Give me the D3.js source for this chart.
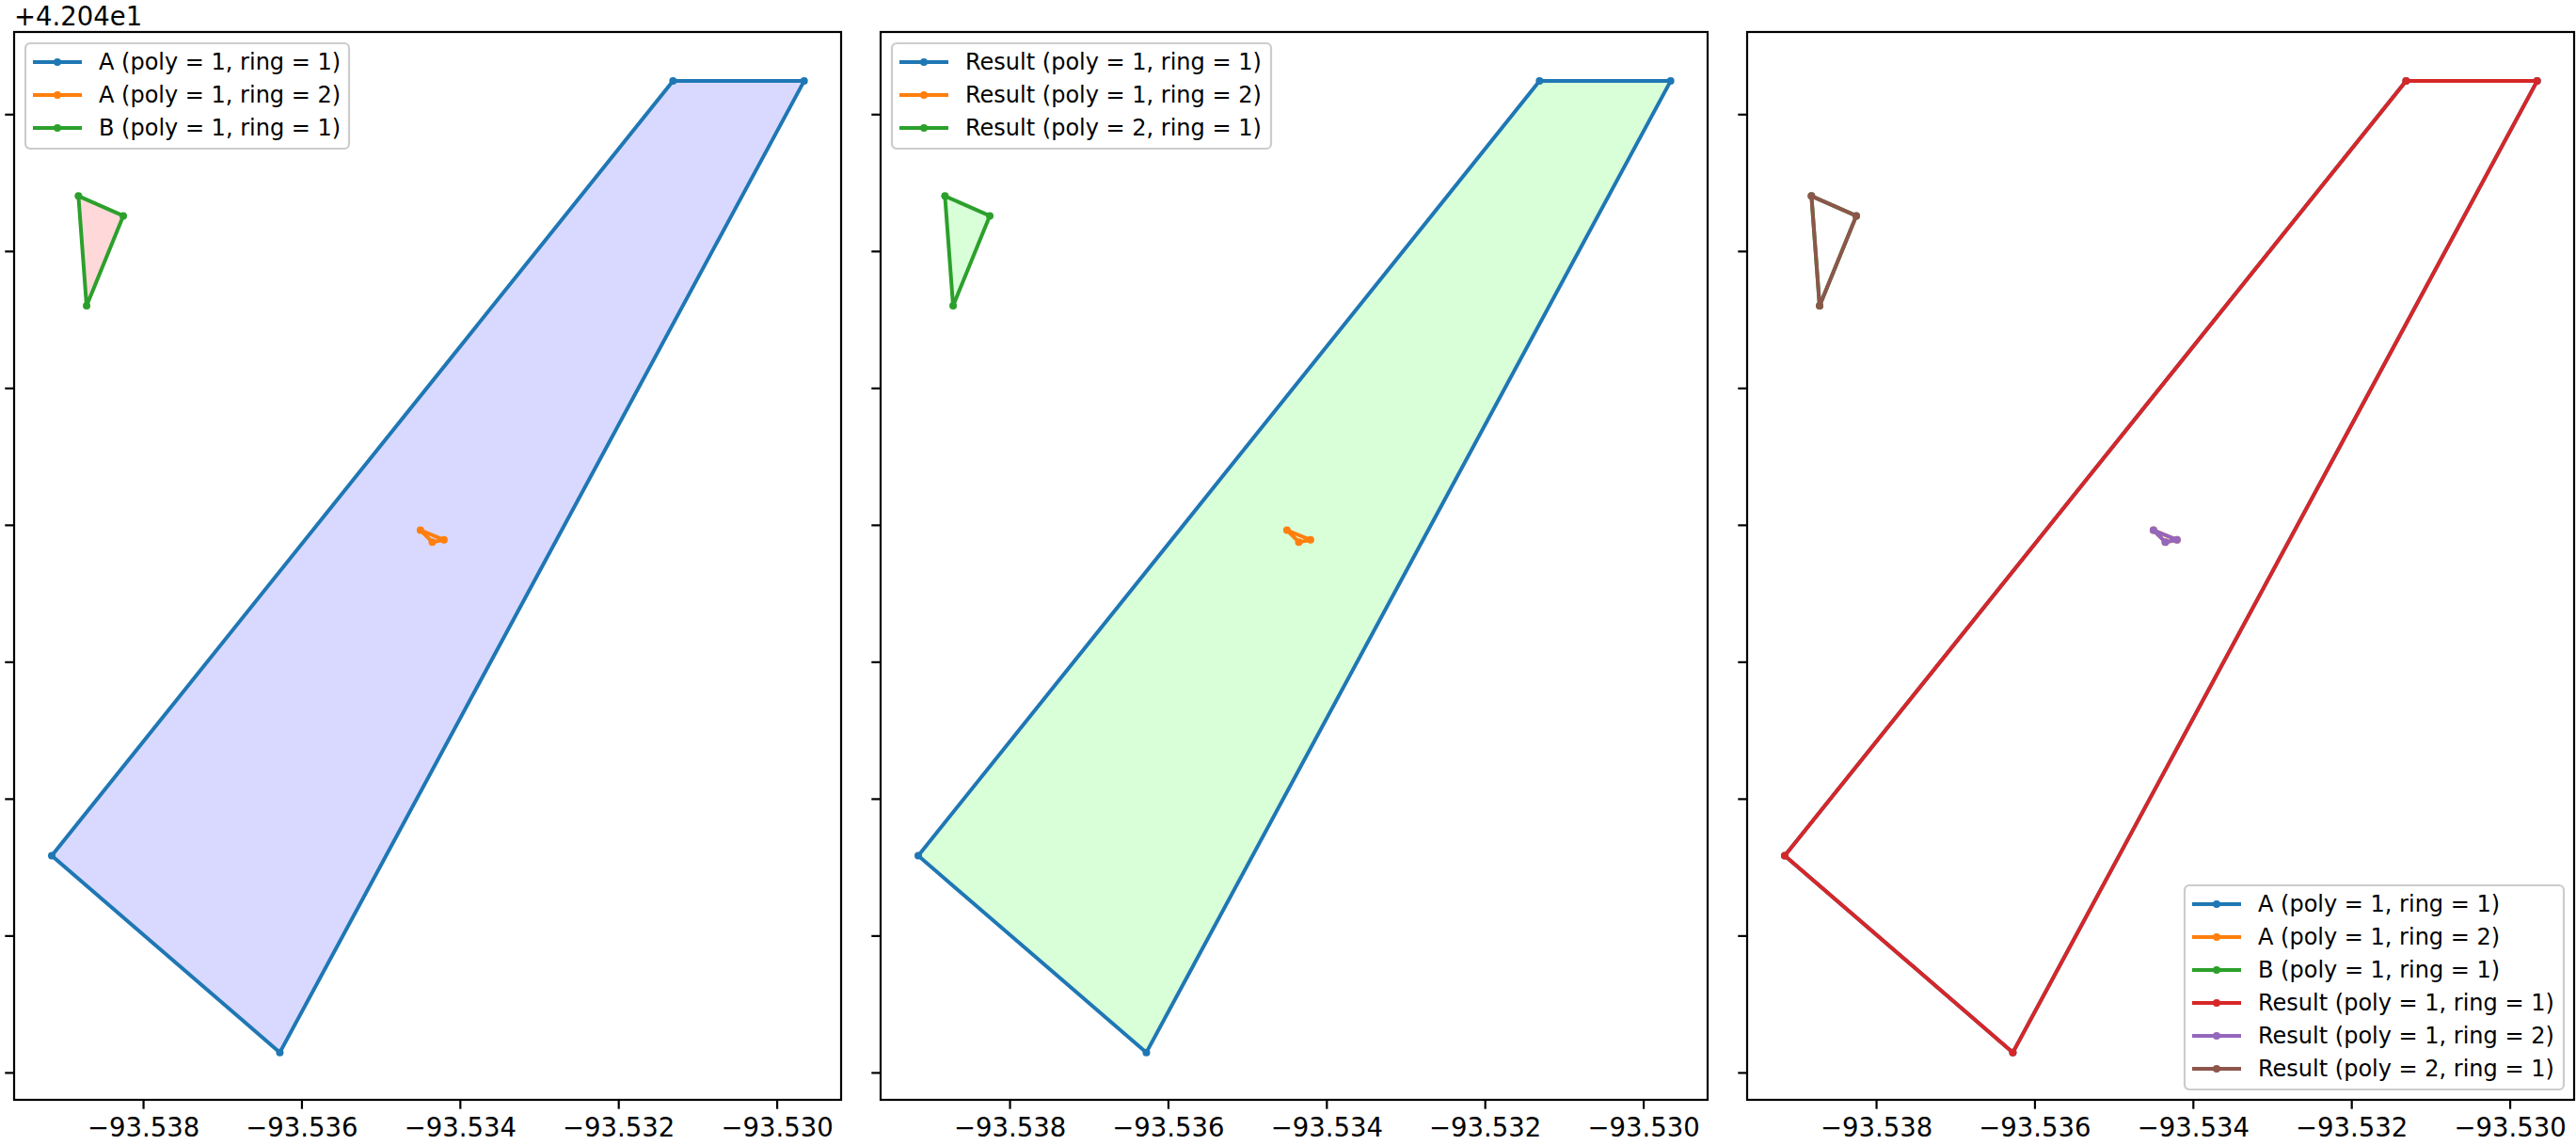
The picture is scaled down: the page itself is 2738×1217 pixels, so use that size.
<!DOCTYPE html>
<html>
<head>
    <meta charset="utf-8">
    <title>Polygon overlay</title>
</head>
<body>
<style type="text/css">
    body {
        margin: 0;
        background: #fff;
    }

    #renderer {
        width: 2738px;
        height: 1217px;
        background: #FFF;
        display: block;
    }

    text {
        font-family: "DejaVu Sans", sans-serif;
    }
</style>
<script type="text/javascript" src="https://cdnjs.cloudflare.com/ajax/libs/d3/7.8.5/d3.min.js"></script>
<svg id='renderer'></svg>

<script type="text/javascript">
    // rings as [longitude, latitude]
    var ringA1 = [[-93.531309, 42.048242], [-93.529654, 42.048242], [-93.536273, 42.041146], [-93.539153, 42.042583]];
    var ringA2 = [[-93.534498, 42.044961], [-93.534201, 42.044890], [-93.534348, 42.044874]];
    var ringB1 = [[-93.538816, 42.047402], [-93.538250, 42.047257], [-93.538713, 42.046600]];

    var xTicks = [-93.538, -93.536, -93.534, -93.532, -93.530];
    var yTicks = [42.041, 42.042, 42.043, 42.044, 42.045, 42.046, 42.047, 42.048];
    var xDomain = [-93.5396281, -93.5291872];
    var yDomain = [42.0408, 42.0486];
    var offsetLabel = '+4.204e1';

    var labelsLeft = ['A (poly = 1, ring = 1)', 'A (poly = 1, ring = 2)', 'B (poly = 1, ring = 1)'];
    var labelsMiddle = ['Result (poly = 1, ring = 1)', 'Result (poly = 1, ring = 2)', 'Result (poly = 2, ring = 1)'];

    var blue = '#1f77b4', orange = '#ff7f0e', green = '#2ca02c',
        red = '#d62728', purple = '#9467bd', brown = '#8c564b';

    var root = d3.select('#renderer');

    var panelWidth = 879;
    var panelTop = 34;
    var panelBottom = 1169;
    var panelLefts = [15, 936, 1857];
    var tickFont = 27.5;
    var legendFont = 24;

    var x = d3.scaleLinear().domain(xDomain).range([0, panelWidth]);
    var y = d3.scaleLinear().domain(yDomain).range([panelBottom - panelTop, 0]);

    var panels = [
        {
            fills: [{ring: ringA1, color: '#d9d9ff'}, {ring: ringB1, color: '#ffd9d9'}],
            series: [
                {ring: ringA1, color: blue, label: labelsLeft[0]},
                {ring: ringA2, color: orange, label: labelsLeft[1]},
                {ring: ringB1, color: green, label: labelsLeft[2]}
            ],
            legend: 'top'
        },
        {
            fills: [{ring: ringA1, color: '#d9ffd9'}, {ring: ringB1, color: '#d9ffd9'}],
            series: [
                {ring: ringA1, color: blue, label: labelsMiddle[0]},
                {ring: ringA2, color: orange, label: labelsMiddle[1]},
                {ring: ringB1, color: green, label: labelsMiddle[2]}
            ],
            legend: 'top'
        },
        {
            fills: [],
            series: [
                {ring: ringA1, color: blue, label: labelsLeft[0]},
                {ring: ringA2, color: orange, label: labelsLeft[1]},
                {ring: ringB1, color: green, label: labelsLeft[2]},
                {ring: ringA1, color: red, label: labelsMiddle[0]},
                {ring: ringA2, color: purple, label: labelsMiddle[1]},
                {ring: ringB1, color: brown, label: labelsMiddle[2]}
            ],
            legend: 'bottom'
        }
    ];

    var ringPath = d3.line()
        .x(function (d) { return x(d[0]); })
        .y(function (d) { return y(d[1]); })
        .curve(d3.curveLinearClosed);

    panels.forEach(function (panel, i) {
        var g = root.append('g')
            .attr('transform', 'translate(' + panelLefts[i] + ',' + panelTop + ')');
        drawPanel(g, panel);
    });

    // offset text for the y axis, only shown on the first panel
    root.append('text')
        .text(offsetLabel)
        .attr('x', panelLefts[0])
        .attr('y', 26.5)
        .attr('font-size', tickFont)
        .attr('fill', '#000');

    function drawPanel(g, panel) {
        var h = panelBottom - panelTop;

        g.selectAll('path.fill')
            .data(panel.fills)
            .enter().append('path')
            .attr('class', 'fill')
            .attr('d', function (d) { return ringPath(d.ring); })
            .attr('fill', function (d) { return d.color; })
            .attr('stroke', 'none');

        panel.series.forEach(function (s) {
            g.append('path')
                .attr('d', ringPath(s.ring))
                .attr('fill', 'none')
                .attr('stroke', s.color)
                .attr('stroke-width', 4)
                .attr('stroke-linejoin', 'round');
            g.selectAll(null)
                .data(s.ring)
                .enter().append('circle')
                .attr('cx', function (d) { return x(d[0]); })
                .attr('cy', function (d) { return y(d[1]); })
                .attr('r', 4)
                .attr('fill', s.color);
        });

        // axes
        var xAxis = g.append('g')
            .attr('transform', 'translate(0,' + h + ')')
            .call(d3.axisBottom(x).tickValues(xTicks).tickSize(9.7).tickPadding(9.7).tickSizeOuter(0));
        var yAxis = g.append('g')
            .call(d3.axisLeft(y).tickValues(yTicks).tickFormat('').tickSize(9.7).tickSizeOuter(0));

        [xAxis, yAxis].forEach(function (a) {
            a.select('.domain').remove();
            a.selectAll('line').attr('stroke', '#000').attr('stroke-width', 2.2);
            a.selectAll('text')
                .attr('font-size', tickFont)
                .attr('font-family', '"DejaVu Sans", sans-serif')
                .attr('fill', '#000');
        });

        g.append('rect')
            .attr('width', panelWidth)
            .attr('height', h)
            .attr('fill', 'none')
            .attr('stroke', '#000')
            .attr('stroke-width', 2.2);

        drawLegend(g, panel);
    }

    function drawLegend(g, panel) {
        var rowStep = 35;
        var items = panel.series;
        var legend = g.append('g');

        var boxH = items.length * rowStep + 7;
        var labelLen = d3.max(items, function (d) { return d.label.length; });
        var boxW = labelLen > 24 ? 403 : 344;
        var boxX, boxY;
        if (panel.legend === 'top') {
            boxX = 12;
            boxY = 12;
        } else {
            boxX = panelWidth - 11 - boxW;
            boxY = (panelBottom - panelTop) - 11 - boxH;
        }
        legend.attr('transform', 'translate(' + boxX + ',' + boxY + ')');

        legend.append('rect')
            .attr('width', boxW)
            .attr('height', boxH)
            .attr('rx', 5)
            .attr('fill', '#fff')
            .attr('fill-opacity', 0.8)
            .attr('stroke', '#cccccc')
            .attr('stroke-width', 2.2);

        var row = legend.selectAll('g.row')
            .data(items)
            .enter().append('g')
            .attr('transform', function (d, i) { return 'translate(0,' + (20 + i * rowStep) + ')'; });

        row.append('line')
            .attr('x1', 8).attr('x2', 60)
            .attr('stroke', function (d) { return d.color; })
            .attr('stroke-width', 4);
        row.append('circle')
            .attr('cx', 34)
            .attr('r', 4)
            .attr('fill', function (d) { return d.color; });
        row.append('text')
            .text(function (d) { return d.label; })
            .attr('x', 78)
            .attr('dy', '0.35em')
            .attr('font-size', legendFont)
            .attr('fill', '#000');
    }
</script>
</body>
</html>
